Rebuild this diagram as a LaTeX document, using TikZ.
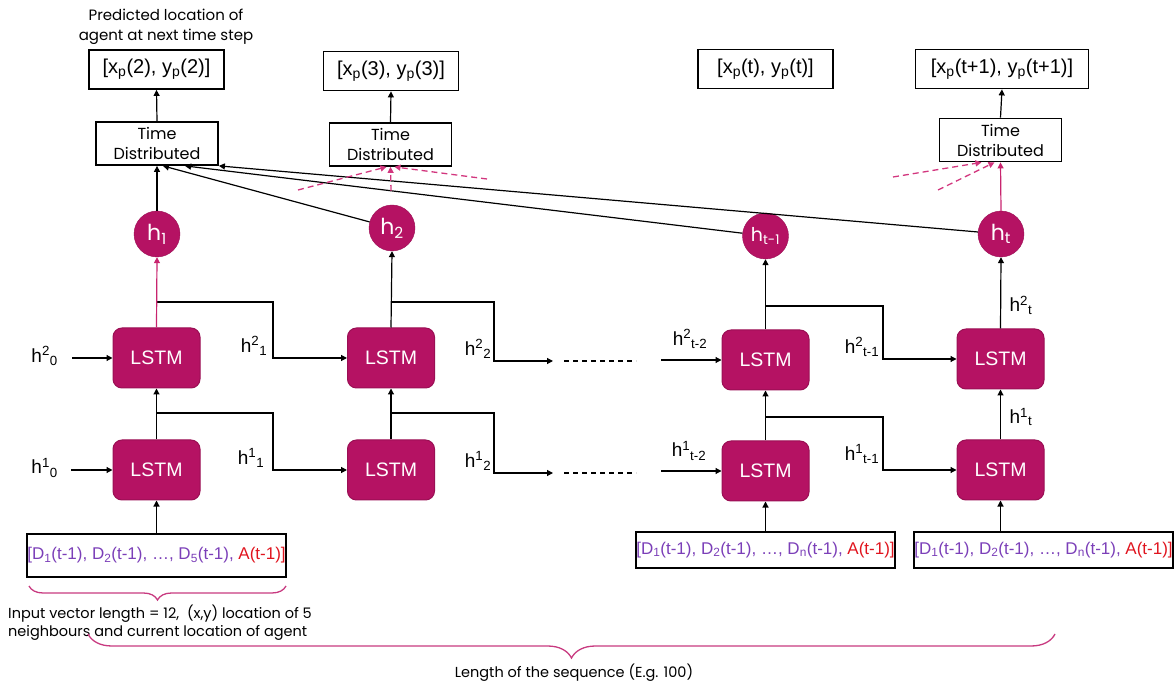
\documentclass[tikz,border=0pt]{standalone}
\usepackage{fontspec}
\setmainfont{Liberation Sans}
\newfontfamily\gothic{Poppins}
\usetikzlibrary{arrows.meta,decorations.pathreplacing,calc}

\definecolor{lstmfill}{HTML}{B51263}
\definecolor{lstmedge}{HTML}{9A0F54}
\definecolor{pinkline}{HTML}{C8246E}
\definecolor{dashpink}{HTML}{D2367E}
\definecolor{bracepink}{HTML}{C83A80}
\definecolor{vpurple}{HTML}{7B3FB8}
\definecolor{vred}{HTML}{E0141E}

\newcommand{\up}[1]{\textsuperscript{#1}}
\newcommand{\dn}[1]{\textsubscript{#1}}
\newcommand{\vecD}[1]{\textcolor{vpurple}{[D\dn{1}(t-1), D\dn{2}(t-1), \dots, D\dn{#1}(t-1), }\textcolor{vred}{A(t-1)]}}

\begin{document}
\begin{tikzpicture}[x=1pt,y=-1pt,
  arr/.style={-{Triangle[length=6pt,width=6pt]}, line width=1.2pt},
  parr/.style={arr, draw=pinkline},
  pdash/.style={-{Triangle[length=6pt,width=6pt]}, line width=1.3pt, draw=dashpink, dash pattern=on 6pt off 4pt},
  plain/.style={line width=1.2pt},
  dotted line/.style={line width=1.2pt, dash pattern=on 5pt off 4pt},
  lstm/.style={draw=lstmedge, line width=1pt, fill=lstmfill, rounded corners=9pt,
    minimum width=87pt, minimum height=60pt, inner sep=0pt, text=white,
    font=\fontsize{19.5}{21}\selectfont},
  hc/.style={circle, draw=lstmedge, fill=lstmfill, minimum size=46pt, inner sep=0pt,
    text=white, font=\gothic\fontsize{22}{24}\selectfont},
  outbox/.style={draw, line width=1.8pt, minimum height=39pt, inner sep=0pt,
    font=\fontsize{20}{22}\selectfont},
  tdbox/.style={draw, line width=1.8pt, minimum width=122pt, minimum height=43pt,
    inner sep=0pt, align=center, font=\gothic\fontsize{16}{20}\selectfont},
  inbox/.style={draw, line width=1.8pt, minimum width=259pt, inner sep=0pt,
    font=\fontsize{17}{19}\selectfont},
  hlab/.style={inner sep=0pt, font=\fontsize{19}{21}\selectfont},
  note/.style={inner sep=0pt, font=\gothic\fontsize{14.5}{18}\selectfont},
  bracestyle/.style={draw=bracepink, line width=1.3pt, decorate},
]
\useasboundingbox (0,0) rectangle (1176,684);

% caption over the first output
\node[note, align=center, font=\gothic\fontsize{15}{20}\selectfont] (cap) at (166,27)
  {Predicted location of\\agent at next time step};

% predicted outputs
\node[outbox, minimum width=135pt] (O1) at (156.5,69.5) {[x\dn{p}(2), y\dn{p}(2)]};
\node[outbox, minimum width=135pt] (O2) at (391,71) {[x\dn{p}(3), y\dn{p}(3)]};
\node[outbox, minimum width=135pt] (O3) at (765.5,69) {[x\dn{p}(t), y\dn{p}(t)]};
\node[outbox, minimum width=173pt] (O4) at (1002,69) {[x\dn{p}(t+1), y\dn{p}(t+1)]};

% time distributed layers
\node[tdbox] (TD1) at (157,143.5) {Time\\Distributed};
\node[tdbox] (TD2) at (390.5,144.5) {Time\\Distributed};
\node[tdbox] (TD4) at (1000.5,140) {Time\\Distributed};

% hidden outputs
\node[hc] (h1) at (157,234) {h\dn{1}};
\node[hc] (h2) at (392,228) {h\dn{2}};
\node[hc, font=\gothic\fontsize{19}{21}\selectfont] (hm) at (765.5,236) {h\dn{t-1}};
\node[hc] (ht) at (1001,234) {h\dn{t}};

% LSTM cells
\node[lstm] (A2) at (156.5,358) {LSTM};
\node[lstm] (A1) at (156.5,470) {LSTM};
\node[lstm] (B2) at (391,358) {LSTM};
\node[lstm] (B1) at (391,470) {LSTM};
\node[lstm] (C2) at (765.5,360) {LSTM};
\node[lstm] (C1) at (765.5,471) {LSTM};
\node[lstm] (D2) at (1000.5,359) {LSTM};
\node[lstm] (D1) at (1000.5,470) {LSTM};

% input vectors
\node[inbox, minimum height=43pt] (I1) at (156.5,555.5) {\vecD{5}};
\node[inbox, minimum height=36pt] (I3) at (765.5,550) {\vecD{n}};
\node[inbox, minimum height=36pt] (I4) at (1043.5,550) {\vecD{n}};

% inputs to the cells
\draw[arr] (I1.north) -- (A1.south);
\draw[arr] (I3.north) -- (C1.south);
\draw[arr] (D1.south |- I4.north) -- (D1.south);

% initial states
\coordinate (s20) at (72,358);
\coordinate (s10) at (71,470);
\node[hlab, anchor=east] (l20) at (58,356) {h\up{2}\dn{0}};
\node[hlab, anchor=east] (l10) at (58,468) {h\up{1}\dn{0}};
\draw[arr] (s20) -- (A2.west);
\draw[arr] (s10) -- (A1.west);

% column A
\draw[arr] (A1.north) -- (A2.south);
\coordinate (bA1) at (156.5,413);
\coordinate (kA1) at (273,470);
\draw[arr] (bA1) -| (kA1) -- (B1.west);
\coordinate (bA2) at (156.5,302);
\coordinate (kA2) at (273,358);
\draw[arr] (bA2) -| (kA2) -- (B2.west);
\draw[parr] (A2.north) -- (h1.south);
\node[hlab] (l11) at (251,458) {h\up{1}\dn{1}};
\node[hlab] (l21) at (254,346) {h\up{2}\dn{1}};

% column B
\draw[arr] (B1.north) -- (B2.south);
\draw[arr] (B2.north) -- (h2.south);
\coordinate (bB2) at (391,302);
\coordinate (kB2) at (494,361);
\coordinate (eB2) at (553,361);
\draw[arr] (bB2) -| (kB2) -- (eB2);
\coordinate (bB1) at (391,413);
\coordinate (kB1) at (494,473);
\coordinate (eB1) at (553,473);
\draw[arr] (bB1) -| (kB1) -- (eB1);
\node[hlab] (l22) at (478,349) {h\up{2}\dn{2}};
\node[hlab] (l12) at (478,461) {h\up{1}\dn{2}};

% sequence continues
\coordinate (g2a) at (564,361);
\coordinate (g2b) at (636,361);
\coordinate (g1a) at (564,473);
\coordinate (g1b) at (636,473);
\draw[dotted line] (g2a) -- (g2b);
\draw[dotted line] (g1a) -- (g1b);

% column C
\coordinate (sC2) at (661,360);
\coordinate (sC1) at (661,471);
\draw[arr] (sC2) -- (C2.west);
\draw[arr] (sC1) -- (C1.west);
\node[hlab] (lC2) at (690,339) {h\up{2}\dn{t-2}};
\node[hlab] (lC1) at (689,451) {h\up{1}\dn{t-2}};
\draw[arr] (C1.north) -- (C2.south);
\draw[arr] (C2.north) -- (hm.south);
\coordinate (bC1) at (765.5,417);
\coordinate (kC1) at (883,470);
\draw[arr] (bC1) -| (kC1) -- (D1.west);
\coordinate (bC2) at (765.5,306);
\coordinate (kC2) at (883,359);
\draw[arr] (bC2) -| (kC2) -- (D2.west);
\node[hlab] (lm2) at (862,347) {h\up{2}\dn{t-1}};
\node[hlab] (lm1) at (862,454) {h\up{1}\dn{t-1}};

% column D
\draw[arr] (D1.north) -- (D2.south);
\draw[arr] (D2.north) -- (ht.south);
\node[hlab] (lt1) at (1021,417) {h\up{1}\dn{t}};
\node[hlab] (lt2) at (1021,305) {h\up{2}\dn{t}};

% hidden outputs into the first time distributed layer
\draw[arr] (h1.north) -- (TD1.south);
\draw[arr] (h2) -- ($(TD1.south)+(6,0)$);
\draw[arr] (hm) -- ($(TD1.south)+(28,0)$);
\draw[arr] (ht) -- (TD1.south east);

% outputs of the time distributed layers
\draw[arr] (TD1.north) -- (O1.south);
\draw[arr] (TD2.north) -- (O2.south);
\draw[arr] (TD4.north) -- (O4.south);

% pink links into the later layers
\coordinate (p1) at (298,190);
\coordinate (p2) at (487,179);
\coordinate (p3) at (391,191);
\draw[pdash] (p1) -- ($(TD2.south)+(-4,0)$);
\draw[pdash] (p2) -- ($(TD2.south)+(4,0)$);
\draw[pdash] (p3) -- (TD2.south);
\coordinate (q1) at (893,177);
\coordinate (q2) at (938,190);
\draw[pdash] (q1) -- ($(TD4.south)+(-19,0)$);
\draw[pdash] (q2) -- ($(TD4.south)+(-6,0)$);
\draw[parr] (ht.north) -- (TD4.south);

% braces and notes
\coordinate (br1a) at (29,586);
\coordinate (br1b) at (286,586);
\draw[bracestyle, decoration={brace, mirror, amplitude=14pt}] (br1a) -- (br1b);
\node[note, anchor=north west, align=left] (n1) at (8,605)
  {Input vector length = 12, \ (x,y) location of 5\\neighbours and current location of agent};
\coordinate (br2a) at (88,634);
\coordinate (br2b) at (1055,634);
\draw[bracestyle, decoration={brace, mirror, amplitude=24pt}] (br2a) -- (br2b);
\node[note] (n2) at (574,673) {Length of the sequence (E.g. 100)};
\end{tikzpicture}
\end{document}
